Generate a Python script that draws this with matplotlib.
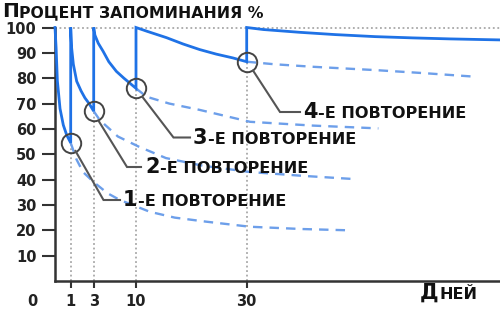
import numpy as np
import matplotlib
matplotlib.use("Agg")
import matplotlib.pyplot as plt
from matplotlib.lines import Line2D

# ---------------- data ----------------
rep_days = [1, 3, 10, 30]                 # days of repetitions
rep_values = [54.5, 67, 76, 86.5]         # retention just before each repetition

c1_days = [0, 0.07, 0.15, 0.32, 0.53, 0.75, 1.0]
c1_vals = [100, 92, 79, 68, 61.5, 57.5, 54.5]
c2_days = [1, 1.08, 1.23, 1.52, 1.9, 2.24, 2.6, 3.0]
c2_vals = [100, 92, 85.5, 78.8, 75, 72.2, 70, 67]
c3_days = [3, 3.2, 3.75, 4.56, 5.5, 6.75, 8.0, 8.9, 10]
c3_vals = [100, 97, 93.8, 90.6, 86.5, 82.7, 80, 78.2, 76]
c4_days = [10, 12, 15.5, 18.5, 21.5, 24.5, 27.5, 30]
c4_vals = [100, 98.5, 96, 93.5, 91.3, 89.5, 88, 86.5]
c5_days = [30, 33, 39.6, 46, 53.2, 60, 66.8, 75.8]
c5_vals = [100, 99.2, 98.1, 97.2, 96.4, 95.9, 95.5, 95.1]

d1_days = [1, 1.5, 2.07, 3, 5.3, 7.3, 12.5, 17, 22.7, 30.6, 40, 48.4]
d1_vals = [54.5, 48, 43, 39, 34.6, 32, 27.3, 25, 23.4, 21.4, 20.5, 20]
d2_days = [3, 4, 7, 10.5, 15.4, 22, 30.6, 40, 49.5]
d2_vals = [67, 63.5, 57, 53, 48.5, 45.5, 43, 41.5, 40.2]
d3_days = [10, 11.9, 16, 21.5, 30.6, 42, 53.8]
d3_vals = [76, 72.7, 70, 67.5, 62.8, 61.3, 60.2]
d4_days = [30, 35, 42, 53.2, 62, 71.2]
d4_vals = [86.5, 85.5, 84.5, 83.2, 82, 80.6]

y_ticks = [10, 20, 30, 40, 50, 60, 70, 80, 90, 100]
x_tick_labels = ["1", "3", "10", "30"]
title_big, title_small = "П", "РОЦЕНТ ЗАПОМИНАНИЯ %"
xlabel_big, xlabel_small = "Д", "НЕЙ"
rep_labels = [("1", "-Е ПОВТОРЕНИЕ"), ("2", "-Е ПОВТОРЕНИЕ"),
              ("3", "-Е ПОВТОРЕНИЕ"), ("4", "-Е ПОВТОРЕНИЕ")]

# ---------------- layout ----------------
W, H = 500, 313
FONT = "DejaVu Sans"
BLUE = "#1f72e6"
LBLUE = "#6d9fea"
GRAY = "#444444"
DOT = "#a8a8a8"

# non-uniform day axis (piecewise linear, pixels from the y axis)
bp_days = np.array([0, 1, 3, 10, 30, 80], float)
bp_pos = np.array([0, 15.7, 38.7, 81, 191.7, 191.7 + 50 * 5.535])


def fwd(x):
    x = np.asarray(x, float)
    out = np.interp(x, bp_days, bp_pos)
    out = np.where(x < 0, x * 15.7, out)
    out = np.where(x > 80, bp_pos[-1] + (x - 80) * 5.535, out)
    return out


def inv(p):
    p = np.asarray(p, float)
    out = np.interp(p, bp_pos, bp_days)
    out = np.where(p < 0, p / 15.7, out)
    out = np.where(p > bp_pos[-1], 80 + (p - bp_pos[-1]) / 5.535, out)
    return out


fig = plt.figure(figsize=(W / 100, H / 100), dpi=100)
ax_left, ax_right, ax_top, ax_bottom = 55, 500, 27.5, 281
ax = fig.add_axes([ax_left / W, 1 - ax_bottom / H, (ax_right - ax_left) / W,
                   (ax_bottom - ax_top) / H])
ax.set_xscale("function", functions=(fwd, inv))
ax.set_xlim(0, float(inv(ax_right - ax_left)))
ax.set_ylim(0, 100)

for s in ["top", "right"]:
    ax.spines[s].set_visible(False)
for s in ["left", "bottom"]:
    ax.spines[s].set_color("#333333")
    ax.spines[s].set_linewidth(1.8)

ax.set_yticks(y_ticks)
ax.set_yticklabels([str(v) for v in y_ticks])
ax.set_xticks(rep_days)
ax.set_xticklabels(x_tick_labels)
ax.tick_params(axis="y", length=9.4, width=1.5, color="#333333", pad=4,
               labelsize=10.5, labelcolor="#222222")
ax.tick_params(axis="x", length=5, width=1.5, color="#333333", pad=4.5,
               labelsize=10.5, labelcolor="#222222")
for lab in ax.get_xticklabels() + ax.get_yticklabels():
    lab.set_fontfamily(FONT)
    lab.set_fontweight("bold")
ax.xaxis.set_minor_locator(matplotlib.ticker.NullLocator())

# dotted guides
for d in rep_days:
    ax.plot([d, d], [0, 100], color=DOT, lw=1.3, ls=(0, (1, 1.5)), zorder=1)
ax.plot([0, ax.get_xlim()[1]], [100, 100], color=DOT, lw=1.3,
        ls=(0, (1, 1.5)), zorder=1, clip_on=False)

# dashed continuations
for dd, dv in [(d1_days, d1_vals), (d2_days, d2_vals), (d3_days, d3_vals),
               (d4_days, d4_vals)]:
    ax.plot(dd, dv, color=LBLUE, lw=1.7, ls=(0, (4, 3)), zorder=2)

# solid curve
sol_d = c1_days + c2_days + c3_days + c4_days + c5_days
sol_v = c1_vals + c2_vals + c3_vals + c4_vals + c5_vals
ax.plot(sol_d, sol_v, color=BLUE, lw=2.0, zorder=3, clip_on=False,
        solid_joinstyle="miter")

# circles
ax.plot(rep_days, rep_values, ls="none", marker="o", ms=14, mfc="none",
        mec=GRAY, mew=1.4, zorder=4)

# leader lines (pixel coords)
leaders = [[(75.5, 151), (103.5, 200), (120, 200)],
           [(99, 121.5), (127, 167), (141, 167)],
           [(142.5, 97), (173.5, 137.5), (190, 137.5)],
           [(253, 70.5), (280, 112), (300, 112)]]
for pts in leaders:
    xs = [p[0] / W for p in pts]
    ys = [1 - p[1] / H for p in pts]
    fig.add_artist(Line2D(xs, ys, color="#555555", lw=1.5,
                          solid_joinstyle="miter"))

renderer = fig.canvas.get_renderer()


def pair(x, y, big, small, bsize, ssize, gap=0.5):
    t1 = fig.text(x / W, 1 - y / H, big, fontsize=bsize, fontweight="bold",
                  family=FONT, va="baseline", ha="left", color="#111111")
    bb = t1.get_window_extent(renderer)
    fig.text((bb.x1 + gap) / W, 1 - y / H, small, fontsize=ssize,
             fontweight="bold", family=FONT, va="baseline", ha="left",
             color="#111111")


label_pos = [(123, 206), (145, 173), (193, 143.5), (303, 118)]
for (bx, by), (b, s) in zip(label_pos, rep_labels):
    pair(bx, by, b, s, 15, 11.6)

pair(2, 17, title_big, title_small, 14.5, 11.3)
pair(420, 299, xlabel_big, xlabel_small, 15, 11.5)

fig.text(32 / W, 1 - 301 / H, "0", fontsize=10.5, fontweight="bold",
         family=FONT, ha="center", va="center", color="#222222")

fig.savefig("out.png", dpi=100)
